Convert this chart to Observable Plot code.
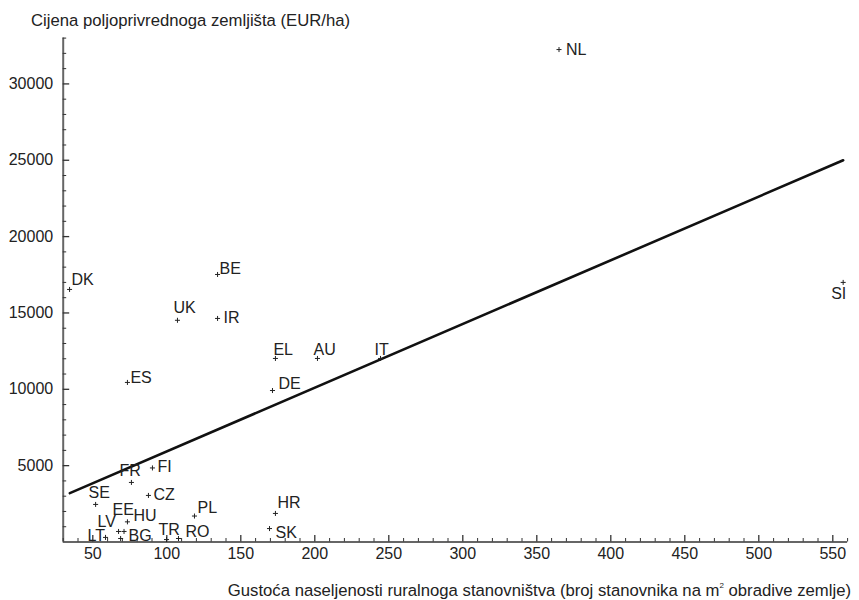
<!DOCTYPE html>
<html>
<head>
<meta charset="utf-8">
<script src="https://cdn.jsdelivr.net/npm/d3@7"></script>
<script src="https://cdn.jsdelivr.net/npm/@observablehq/plot@0.6"></script>
<style>
  body { margin: 0; background: #fff; }
  #wrap { position: relative; width: 859px; height: 600px; font-family: "Liberation Sans", Arial, sans-serif; color: #222; }
  #title { position: absolute; left: 31px; top: 11px; font-size: 16.7px; white-space: nowrap; }
  #xlabel { position: absolute; right: 8px; top: 581px; font-size: 16.7px; white-space: nowrap; }
  #xlabel sup { font-size: 8px; vertical-align: 8px; }
  #chart { position: absolute; left: 0; top: 0; }
</style>
</head>
<body>
<div id="wrap">
  <div id="chart"></div>
  <div id="title">Cijena poljoprivrednoga zemljišta (EUR/ha)</div>
  <div id="xlabel">Gustoća naseljenosti ruralnoga stanovništva (broj stanovnika na m<sup>2</sup> obradive zemlje)</div>
</div>
<script>
// ---- data ----
const countries = ["NL","SI","DK","BE","UK","IR","EL","AU","IT","DE","ES","FI","FR","SE","CZ","PL","HR","SK","HU","EE","LV","BG","LT","TR","RO"];
const density   = [365, 557, 34.3, 134.3, 107.2, 134.3, 173.4, 201.8, 244.4, 171.4, 73.4, 90.3, 76.1, 51.9, 87.6, 118.7, 173.4, 169.4, 73.4, 71.1, 67.4, 68.8, 58.6, 99.8, 107.9];
const landPrice = [32250, 17000, 16540, 17520, 14520, 14640, 12020, 12020, 12020, 9920, 10450, 4850, 3900, 2460, 3050, 1700, 1870, 880, 1320, 690, 690, 230, 300, 160, 230];
const trendX = [34.5, 557];
const trendY = [3200, 25000];
const xTickLabels = [50, 100, 150, 200, 250, 300, 350, 400, 450, 500, 550];
const yTickLabels = [5000, 10000, 15000, 20000, 25000, 30000];
const xMinorTicks = d3.range(30, 561, 10);
const yMinorTicks = d3.range(0, 33001, 1000);

// label placement (pixel offsets from marker, text-anchor start)
const labelOffset = {
  NL:[7,0], SI:[-12,11.5], DK:[2,-10], BE:[2,-6], UK:[-4,-12], IR:[6,-1],
  EL:[-2,-9], AU:[-4,-9], IT:[-6,-9], DE:[6,-7], ES:[3,-5], FI:[5,-1.5],
  FR:[-12,-12], SE:[-7,-12], CZ:[5,-1], PL:[3,-8], HR:[2,-11], SK:[6,4.5],
  HU:[6,-6], EE:[-11.5,-22], LV:[-21,-10], BG:[8,-2.5], LT:[-18,-1.5], TR:[-8,-9.5], RO:[7,-6.5]
};

const points = countries.map((c, i) => ({c, x: density[i], y: landPrice[i]}));
const trend = trendX.map((x, i) => ({x, y: trendY[i]}));

const W = 859, H = 600;
const mL = 62.7, mR = 11.9, mT = 37.6, mB = 58.5;
const fw = W - mL - mR, fh = H - mT - mB;

const marks = [
  Plot.ruleX([30], {stroke: "#666", strokeWidth: 2}),
  Plot.ruleY([0], {stroke: "#333", strokeWidth: 1.5}),
  Plot.tickY(yMinorTicks.filter(d => d % 5000 !== 0), {y: d => d, insetRight: fw - 3.5, stroke: "#333"}),
  Plot.tickY(yMinorTicks.filter(d => d % 5000 === 0 && d > 0), {y: d => d, insetRight: fw - 6.5, stroke: "#333", strokeWidth: 1.3}),
  Plot.tickX(xMinorTicks.filter(d => d % 50 !== 0), {x: d => d, insetTop: fh - 3.5, stroke: "#333"}),
  Plot.tickX(xTickLabels, {x: d => d, insetTop: fh - 6.5, stroke: "#333", strokeWidth: 1.3}),
  Plot.axisY(yTickLabels, {tickSize: 0, tickPadding: 10, tickFormat: d3.format("d"), fontSize: 16, fill: "#222"}),
  Plot.axisX(xTickLabels, {tickSize: 0, tickPadding: 6, tickFormat: d3.format("d"), fontSize: 16, fill: "#222"}),
  Plot.line(trend, {x: "x", y: "y", stroke: "#111", strokeWidth: 2.6}),
  Plot.dot(points, {x: "x", y: "y", symbol: "plus", r: 1.75, stroke: "#222", strokeWidth: 1}),
  ...countries.map(c => Plot.text(points.filter(p => p.c === c), {
    x: "x", y: "y", text: "c", textAnchor: "start", lineAnchor: "middle",
    dx: labelOffset[c][0], dy: labelOffset[c][1], fontSize: 16, fill: "#222"
  }))
];

const chart = Plot.plot({
  width: W, height: H,
  marginLeft: mL, marginRight: mR, marginTop: mT, marginBottom: mB,
  style: {fontFamily: "'Liberation Sans', Arial, sans-serif", fontSize: "16px", color: "#222", background: "#fff"},
  x: {domain: [30, 560], label: null},
  y: {domain: [0, 33000], label: null},
  marks
});
document.getElementById("chart").appendChild(chart);
</script>
</body>
</html>
